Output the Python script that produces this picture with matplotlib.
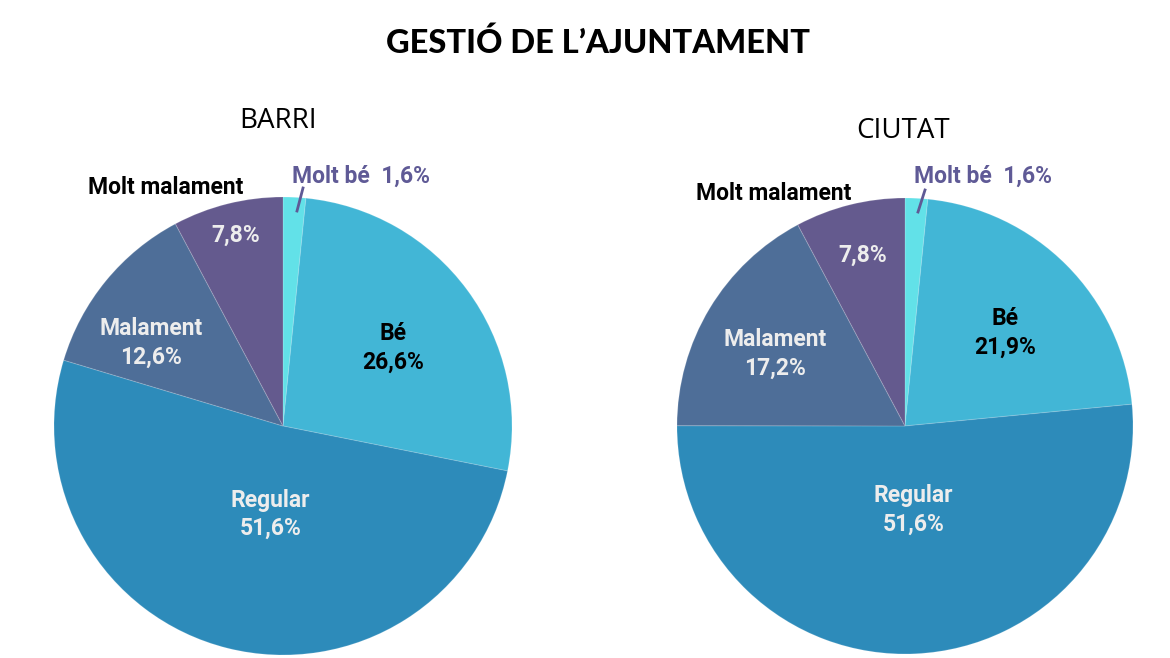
import numpy as np
import matplotlib.pyplot as plt

# dades
categories = ["Molt bé", "Bé", "Regular", "Malament", "Molt malament"]
barri = [1.6, 26.6, 51.6, 12.6, 7.8]
ciutat = [1.6, 21.9, 51.6, 17.2, 7.8]
titles = ["BARRI", "CIUTAT"]

colors = ["#62E1E8", "#42B6D6", "#2D8BBA", "#4E6E98", "#645A8E"]
label_colors = ["#5F5A96", "black", "#EDEDED", "#EDEDED", "#EDEDED"]

W, H = 1170, 658
fig = plt.figure(figsize=(11.7, 6.58), dpi=100)
ax = fig.add_axes([0, 0, 1, 1])

def fmt(v):
    return f"{v:.1f}".replace(".", ",") + "%"

# posicions en pixels (centre, radi, distancia i gir de les etiquetes)
layouts = [
    dict(cx=283, cy=426, r=229, title_xy=(278, 121),
         dist=[None, 0.59, 0.39, 0.68, 0.86], rot=[0, -1, 6, 7, 0],
         mm_xy=(166, 188), mb_xy=(361, 176), tick=((303, 188), (297, 211))),
    dict(cx=905, cy=426, r=228, title_xy=(903, 131),
         dist=[None, 0.6, 0.37, 0.65, 0.77], rot=[0, -2, 3, 2, 0],
         mm_xy=(774, 193), mb_xy=(983, 176), tick=((925, 190), (918, 212))),
]

lbl_font = dict(family=["Roboto", "DejaVu Sans"], fontweight="bold", fontsize=16.5)

for vals, lay, title in zip([barri, ciutat], layouts, titles):
    cx, cy, r = lay["cx"], H - lay["cy"], lay["r"]
    wedges, _ = ax.pie(vals, colors=colors, startangle=90, counterclock=False,
                       center=(cx, cy), radius=r,
                       wedgeprops=dict(edgecolor=(1, 1, 1, 0.15), linewidth=0.8))
    for i, w in enumerate(wedges):
        if lay["dist"][i] is None:
            continue
        mid = np.deg2rad((w.theta1 + w.theta2) / 2 + lay["rot"][i])
        d = lay["dist"][i] * r
        x, y = cx + d * np.cos(mid), cy + d * np.sin(mid)
        if i == 4:
            txt = fmt(vals[i])
        else:
            txt = categories[i] + "\n" + fmt(vals[i])
        ax.text(x, y, txt, ha="center", va="center", color=label_colors[i],
                linespacing=1.3, **lbl_font)
    ax.text(lay["mm_xy"][0], H - lay["mm_xy"][1], categories[4], ha="center",
            va="center", color="black", **lbl_font)
    ax.text(lay["mb_xy"][0], H - lay["mb_xy"][1], categories[0] + "  " + fmt(vals[0]),
            ha="center", va="center", color=label_colors[0], **lbl_font)
    (x0, y0), (x1, y1) = lay["tick"]
    ax.plot([x0, x1], [H - y0, H - y1], color="#5F5A96", lw=2)
    ax.text(lay["title_xy"][0], H - lay["title_xy"][1], title, ha="center",
            va="center", fontsize=20, family=["Open Sans", "DejaVu Sans"],
            color="black")

ax.text(598, H - 43, "GESTIÓ DE L’AJUNTAMENT", ha="center", va="center",
        fontsize=23.5, fontweight="black", family=["Lato", "DejaVu Sans"])

ax.set_xlim(0, W)
ax.set_ylim(0, H)
ax.set_aspect("equal")
ax.axis("off")

fig.savefig("out.png", dpi=100)
